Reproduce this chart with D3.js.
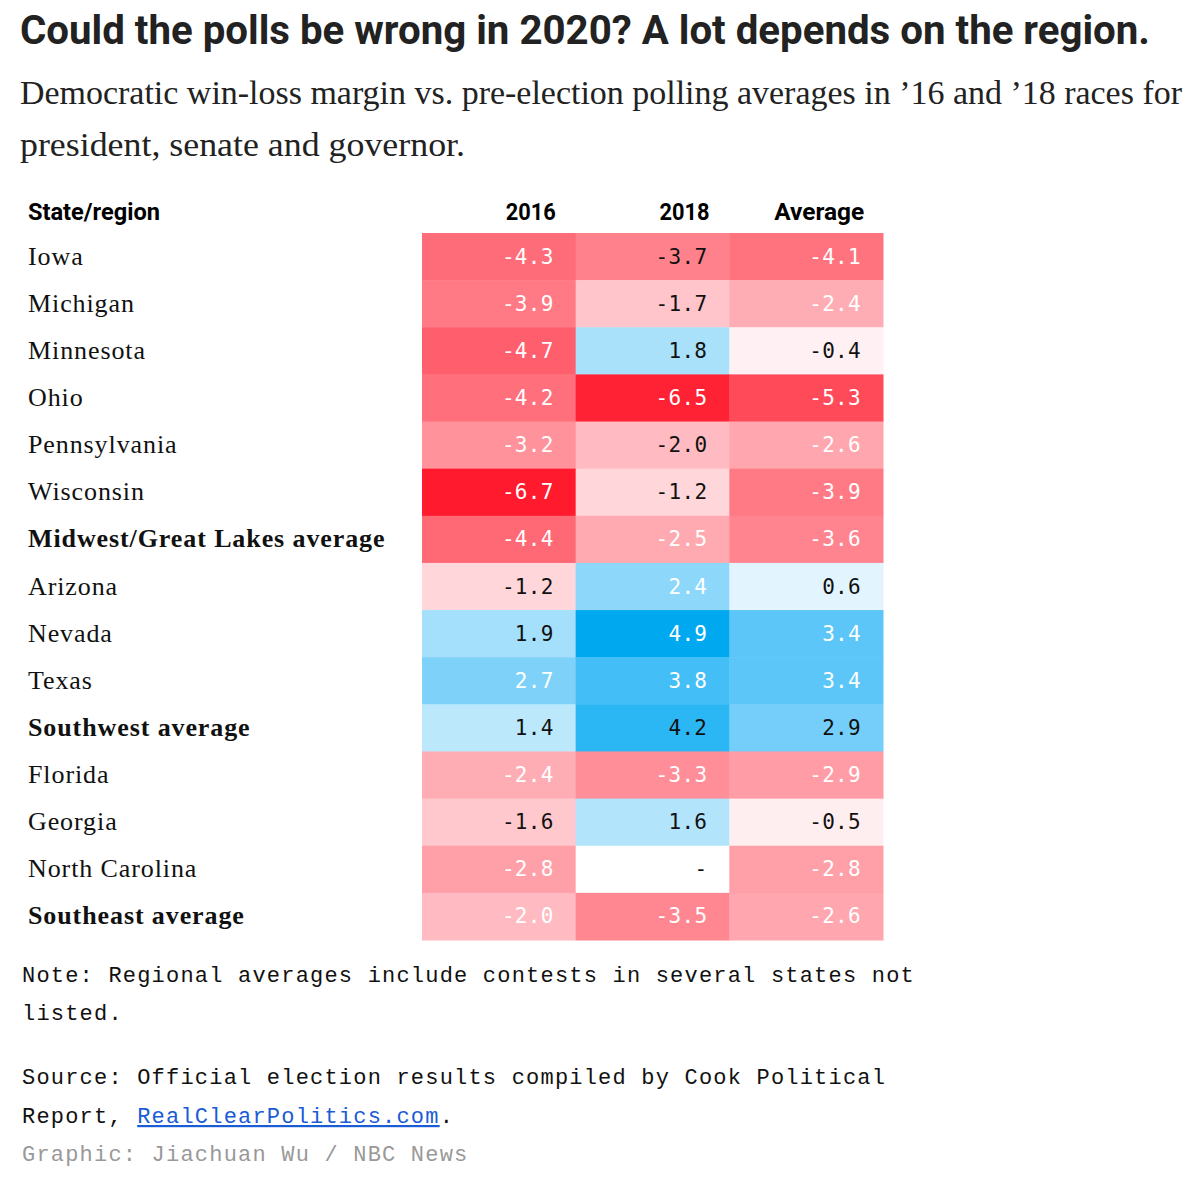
<!DOCTYPE html>
<html><head><meta charset="utf-8">
<script src="https://cdn.jsdelivr.net/npm/d3@7"></script>
<style>body{margin:0;background:#fff}</style>
</head><body>
<svg id="chart" width="1200" height="1186"></svg>
<script>
var states = ['Iowa','Michigan','Minnesota','Ohio','Pennsylvania','Wisconsin','Midwest/Great Lakes average',
  'Arizona','Nevada','Texas','Southwest average','Florida','Georgia','North Carolina','Southeast average'];
var averageRows = ['Midwest/Great Lakes average','Southwest average','Southeast average'];
var columns = ['2016','2018','Average'];
var v2016 = [-4.3,-3.9,-4.7,-4.2,-3.2,-6.7,-4.4,-1.2,1.9,2.7,1.4,-2.4,-1.6,-2.8,-2.0];
var v2018 = [-3.7,-1.7,1.8,-6.5,-2.0,-1.2,-2.5,2.4,4.9,3.8,4.2,-3.3,1.6,null,-3.5];
var vAvg  = [-4.1,-2.4,-0.4,-5.3,-2.6,-3.9,-3.6,0.6,3.4,3.4,2.9,-2.9,-0.5,-2.8,-2.6];
// cells whose label is dark in the original (row index, column index)
var darkLabels = ['0-1','1-1','2-1','2-2','4-1','5-1','7-0','7-2','8-0','10-0','10-1','10-2','12-0','12-1','12-2','13-1'];

var svg = d3.select('#chart');
var color = d3.scaleLinear().domain([-6.7, 0, 3.4, 4.9]).range(['#ff1a2e', '#ffffff', '#5cc6f8', '#00a9ef']);
var x = d3.scaleBand().domain(columns).range([422, 883]);
var y = d3.scaleBand().domain(states).range([233, 940]);

svg.append('text').attr('x', 20).attr('y', 44)
  .attr('textLength', 1130).attr('lengthAdjust', 'spacingAndGlyphs')
  .style('font', 'bold 40px Roboto').style('fill', '#222')
  .text('Could the polls be wrong in 2020? A lot depends on the region.');
svg.selectAll('.sub').data(['Democratic win-loss margin vs. pre-election polling averages in \u201916 and \u201918 races for',
  'president, senate and governor.'])
  .enter().append('text').attr('x', 20).attr('y', function (d, i) { return 104 + i * 52; })
  .attr('textLength', function (d, i) { return i ? 445 : 1162; }).attr('lengthAdjust', 'spacingAndGlyphs')
  .style('font', '34px "Liberation Serif"').style('fill', '#222').text(function (d) { return d; });

svg.append('text').attr('x', 28).attr('y', 220).style('font', 'bold 23px Roboto')
  .attr('textLength', 132).attr('lengthAdjust', 'spacingAndGlyphs').text('State/region');
svg.selectAll('.colh').data(columns).enter().append('text')
  .attr('x', function (d) { return x(d) + x.bandwidth() / 2 + (d === 'Average' ? 13 : 32); }).attr('y', 220)
  .attr('text-anchor', 'middle').attr('textLength', function (d) { return d === 'Average' ? 90 : 50; })
  .attr('lengthAdjust', 'spacingAndGlyphs').style('font', 'bold 23px Roboto').text(function (d) { return d; });

svg.selectAll('.lab').data(states).enter().append('text')
  .attr('x', 28).attr('y', function (d) { return y(d) + y.bandwidth() / 2 + 8; })
  .style('font', function (d) { return (averageRows.indexOf(d) >= 0 ? 'bold ' : '') + '26px "Liberation Serif"'; })
  .style('letter-spacing', '0.9px')
  .style('fill', '#111').text(function (d) { return d; });

var cells = [];
states.forEach(function (s, i) {
  [v2016, v2018, vAvg].forEach(function (arr, j) {
    cells.push({ state: s, col: columns[j], v: arr[i], key: i + '-' + j });
  });
});
var g = svg.selectAll('.cell').data(cells).enter().append('g');
g.append('rect').attr('x', function (d) { return x(d.col); }).attr('y', function (d) { return y(d.state); })
  .attr('width', x.bandwidth() + 0.5).attr('height', y.bandwidth() + 0.5)
  .attr('fill', function (d) { return d.v === null ? '#fff' : color(d.v); });
g.append('text').attr('x', function (d) { return x(d.col) + x.bandwidth() - 22; })
  .attr('y', function (d) { return y(d.state) + y.bandwidth() / 2 + 7; })
  .attr('text-anchor', 'end').style('font', '21px "DejaVu Sans Mono"').style('letter-spacing', '0.3px')
  .style('fill', function (d) { return (d.v === null || darkLabels.indexOf(d.key) >= 0) ? '#111' : '#fff'; })
  .text(function (d) { return d.v === null ? '-' : d3.format('.1f')(d.v).replace('\u2212', '-'); });

var mono = { font: '22px "Liberation Mono"', ls: '1.2px' };
var notes = [
  { t: 'Note: Regional averages include contests in several states not', y: 982 },
  { t: 'listed.', y: 1020 },
  { t: 'Source: Official election results compiled by Cook Political', y: 1084 }
];
svg.selectAll('.note').data(notes).enter().append('text').attr('x', 22).attr('y', function (d) { return d.y; })
  .style('font', mono.font).style('letter-spacing', mono.ls).style('fill', '#111').text(function (d) { return d.t; });
var src = svg.append('text').attr('x', 22).attr('y', 1123).style('font', mono.font).style('letter-spacing', mono.ls).style('fill', '#111');
src.append('tspan').text('Report, ');
src.append('tspan').style('fill', '#1a5bd6').style('text-decoration', 'underline').text('RealClearPolitics.com');
src.append('tspan').text('.');
svg.append('text').attr('x', 22).attr('y', 1161).style('font', mono.font).style('letter-spacing', mono.ls).style('fill', '#999')
  .text('Graphic: Jiachuan Wu / NBC News');
</script>
</body></html>
